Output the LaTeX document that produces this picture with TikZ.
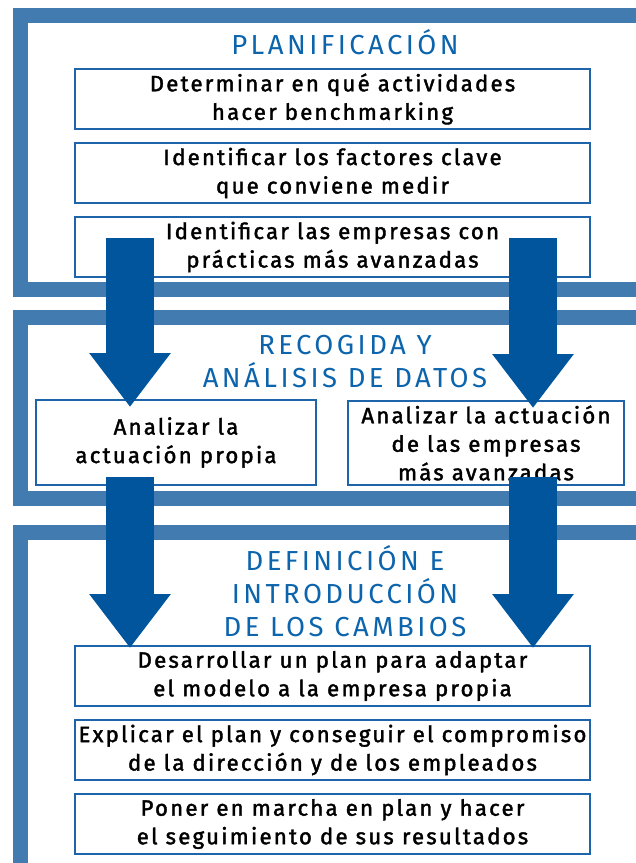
\documentclass[tikz,border=0pt]{standalone}
\usepackage{fontspec}
\setmainfont{Fira Sans}[LetterSpace=12.5]
\newfontfamily\taskfont{Fira Sans}[LetterSpace=10, FakeBold=1.8]
\usetikzlibrary{
    arrows.meta,
    positioning
}
\definecolor{framecol}{RGB}{65,123,176}
\definecolor{arrowcol}{RGB}{0,85,156}
\definecolor{titlecol}{RGB}{12,100,172}
\definecolor{boxcol}{RGB}{30,100,170}
\tikzset{
    every picture/.style = {
        x = 1pt,
        y = -1pt
    },
    frame/.style = {
        draw = framecol,
        line width = 15pt
    },
    heading/.style = {
        text = titlecol,
        font = \fontsize{27.5}{33}\selectfont,
        align = center,
        inner sep = 0pt
    },
    task/.style = {
        draw = boxcol,
        line width = 2.4pt,
        fill = white,
        minimum width = 515pt,
        minimum height = 60pt,
        inner sep = 0pt,
        outer sep = 0pt,
        align = center,
        font = \taskfont\fontsize{22.2}{28.5}\selectfont
    },
    bigarrow/.style = {
        color = arrowcol,
        line width = 48pt,
        -{Triangle[width = 78pt, length = 54pt]}
    }
}

\begin{document}
\begin{tikzpicture}[node distance = 14pt]
    \useasboundingbox (0,0) rectangle (636,863);
    \clip (0,0) rectangle (636,863);

    \draw[frame] (20.5,15.5) rectangle (643,289.5);
    \draw[frame] (20.5,317.5) rectangle (643,498.5);
    \draw[frame] (20.5,532.5) rectangle (643,871);

    \node[heading] (t1) at (345,42) {PLANIFICACIÓN};
    \node[heading] (t2) at (345,362) {RECOGIDA Y\\ANÁLISIS DE DATOS};
    \node[heading] (t3) at (345,591) {DEFINICIÓN E\\INTRODUCCIÓN\\DE LOS CAMBIOS};

    \node[task] (p1) at (332.5,99) {Determinar en qué actividades\\hacer benchmarking};
    \node[task] [below = of p1] (p2) {Identificar los factores clave\\que conviene medir};
    \node[task] [below = of p2] (p3) {Identificar las empresas con\\prácticas más avanzadas};

    \node[task, minimum width = 280pt, minimum height = 85pt] (r1) at (176,442.5) {Analizar la\\actuación propia};
    \node[task, minimum width = 276pt, minimum height = 84pt] (r2) at (486,443) {Analizar la actuación\\de las empresas\\más avanzadas};

    \node[task] (d1) at (332.5,676) {Desarrollar un plan para adaptar\\el modelo a la empresa propia};
    \node[task] [below = of d1] (d2) {Explicar el plan y conseguir el compromiso\\de la dirección y de los empleados};
    \node[task] [below = of d2] (d3) {Poner en marcha en plan y hacer\\el seguimiento de sus resultados};

    \coordinate (a1) at (130,238);
    \coordinate (a2) at (533,238);
    \coordinate (b1) at (130,477);
    \coordinate (b2) at (533,477);

    \draw[bigarrow, shorten >= -7pt] (a1) -- (a1 |- r1.north);
    \draw[bigarrow, shorten >= -7pt] (a2) -- (a2 |- r2.north);
    \draw[bigarrow, shorten >= -2pt] (b1) -- (b1 |- d1.north);
    \draw[bigarrow, shorten >= -2pt] (b2) -- (b2 |- d1.north);
\end{tikzpicture}
\end{document}
